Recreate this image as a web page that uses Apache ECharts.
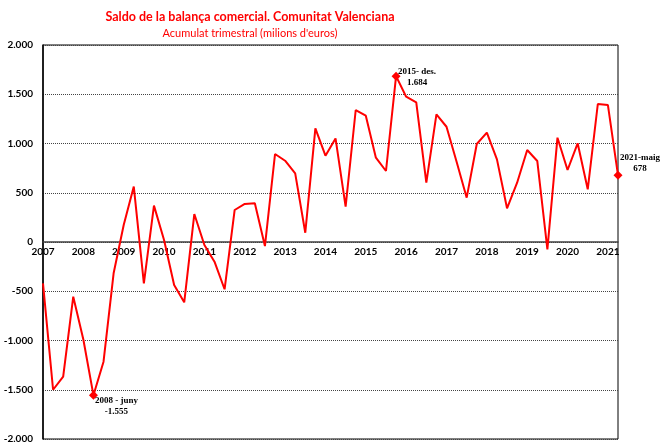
<!DOCTYPE html>
<html>
<head>
<meta charset="utf-8">
<script src="https://cdn.jsdelivr.net/npm/echarts@6/dist/echarts.min.js"></script>
<style>html,body{margin:0;padding:0;background:#fff;}#c{width:660px;height:445px;}</style>
</head>
<body>
<div id="c"></div>
<script>
// Quarterly periods (label shown on the first quarter of each year)
var years = ['2007','2008','2009','2010','2011','2012','2013','2014','2015','2016','2017','2018','2019','2020','2021'];
// Trade balance, rolling quarterly accumulation (millions of euros)
var values = [
  -420, -1500, -1367, -555, -990, -1555, -1215, -318,
  172, 563, -419, 369, 20, -436, -612, 284,
  -30, -200, -480, 325, 386, 393, -41, 893,
  825, 697, 94, 1154, 876, 1052, 359, 1340,
  1282, 856, 721, 1684, 1475, 1418, 602, 1296,
  1170, 815, 450, 995, 1110, 839, 342, 602,
  934, 822, -74, 1059, 731, 1002, 535, 1401,
  1390, 678
];
// Highlighted points: index and text
var notes = [
  {idx: 5, text: '2008 - juny\n-1.555', offset: [23, 11]},
  {idx: 35, text: '2015- des.\n1.684', offset: [21, 1]},
  {idx: 57, text: '2021-maig\n678', offset: [22, -12]}
];
var yTicks = {min: -2000, max: 2000, interval: 500};

var categories = values.map(function (v, i) {
  var y = Math.floor(i / 4);
  return (i % 4 === 0) ? years[y] : years[y] + '-' + (i % 4);
});

function fmt(v) {
  var s = Math.abs(v).toString().replace(/\B(?=(\d{3})+(?!\d))/g, '.');
  return (v < 0 ? '-' : '') + s;
}

var seriesData = values.map(function (v, i) {
  var n = notes.filter(function (x) { return x.idx === i; })[0];
  if (!n) return v;
  return {
    value: v,
    symbol: 'diamond',
    symbolSize: 9,
    label: {
      show: true,
      position: 'inside',
      offset: n.offset,
      formatter: n.text,
      fontFamily: 'Liberation Serif',
      fontWeight: 'bold',
      fontSize: 9,
      lineHeight: 11,
      color: '#000',
      align: 'center',
      verticalAlign: 'middle'
    }
  };
});

var gridTop = 45, gridBottomPx = 439;
// distance from grid bottom to the zero line (axis sits on zero)
var zeroY = gridTop + (gridBottomPx - gridTop) * (yTicks.max / (yTicks.max - yTicks.min));

var chart = echarts.init(document.getElementById('c'), null, {renderer: 'canvas'});
chart.setOption({
  animation: false,
  backgroundColor: '#fff',
  title: {
    text: 'Saldo de la balança comercial. Comunitat Valenciana',
    subtext: 'Acumulat trimestral (milions d\'euros)',
    left: 245,
    top: 5,
    textAlign: 'center',
    itemGap: 5,
    textStyle: {fontFamily: 'Lato', fontWeight: 'bold', fontSize: 12.5, color: '#ff0000'},
    subtextStyle: {fontFamily: 'Lato', fontSize: 11, color: '#ff0000'}
  },
  grid: {
    left: 43, right: 42, top: gridTop, bottom: 445 - gridBottomPx,
    show: true, borderColor: '#000', borderWidth: 1,
    containLabel: false, outerBoundsMode: 'none'
  },
  xAxis: {
    type: 'category',
    data: categories,
    boundaryGap: false,
    offset: -(gridBottomPx - zeroY),
    axisLine: {onZero: false, lineStyle: {color: '#404040', width: 1.5}},
    axisTick: {show: false},
    axisLabel: {
      interval: 3,
      margin: 5,
      formatter: function (v) { return v.indexOf('-') >= 0 ? '' : v; },
      fontFamily: 'Lato',
      fontWeight: 'bold',
      fontSize: 10,
      color: '#000'
    },
    splitLine: {show: false}
  },
  yAxis: {
    type: 'value',
    min: yTicks.min, max: yTicks.max, interval: yTicks.interval,
    axisLine: {show: true, lineStyle: {color: '#000', width: 1.5}},
    axisTick: {show: false},
    axisLabel: {
      margin: 10,
      formatter: fmt,
      fontFamily: 'Lato',
      fontWeight: 'bold',
      fontSize: 10,
      color: '#000'
    },
    splitLine: {show: true, lineStyle: {color: '#444', type: [1, 1], width: 1}}
  },
  series: [{
    type: 'line',
    data: seriesData,
    symbol: 'none',
    showSymbol: true,
    showAllSymbol: true,
    lineStyle: {color: '#ff0000', width: 2},
    itemStyle: {color: '#ff0000'},
    z: 5
  }]
});
</script>
</body>
</html>
